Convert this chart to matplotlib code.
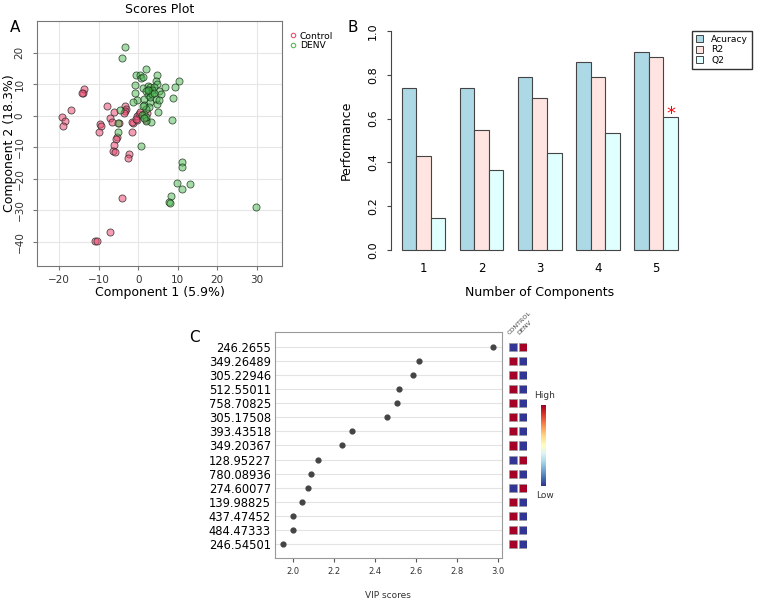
import numpy as np
import matplotlib
matplotlib.use("Agg")
import matplotlib.pyplot as plt
from matplotlib.lines import Line2D
from matplotlib.patches import Patch

# ---------------- Panel A data (PLS-DA scores) ----------------
control_x = [-19.3, -18.4, -18.9, -17.1, -13.9, -13.6, -14.1, -9.6, -9.5, -10.0,
             -7.8, -7.1, -6.5, -6.2, -4.9, -3.3, -3.1, -3.4, -3.5, -5.3,
             -5.6, -6.2, -6.3, -5.8, -2.3, -2.6, -1.6, -1.4, -1.5, -0.4,
             -0.3, 0.2, 0.4, 1.9, -4.2, -7.2, -10.9, -10.3, -0.6, 2.3]
control_y = [-0.5, -1.6, -3.1, 1.8, 7.3, 8.4, 7.1, -2.6, -3.4, -5.3,
             3.2, -0.6, -2.1, 1.3, -2.4, 3.1, 2.2, 1.4, 0.95, -6.7,
             -7.5, -9.3, -11.1, -11.4, -12.2, -13.5, -5.2, -2.4, -1.9, -1.2,
             -0.1, 0.7, 1.3, -1.4, -26.0, -37.0, -39.9, -39.9, -1.0, 1.0]
denv_x = [-3.3, -4.1, 1.9, 4.8, -0.6, 0.4, 0.8, 1.3, 10.4, 4.5,
          4.7, -0.8, 1.1, 2.5, 3.1, 3.9, 2.8, 3.6, 3.1, 2.5,
          2.1, 5.3, 6.9, 9.3, 5.9, -0.8, 8.9, -0.4, -1.4, 1.4,
          1.6, 3.0, 4.8, 4.6, 5.3, 2.7, 2.1, 5.1, 3.3, 1.9,
          1.4, 8.5, -4.5, -5.2, -5.1, 0.7, 11.1, 11.0, 9.8, 11.2,
          13.2, 8.4, 7.7, 8.0, 29.8, 3.0, 3.4, 4.0, 1.3, 1.0,
          2.1, 2.4, 1.5]
denv_y = [21.7, 18.5, 14.9, 12.9, 12.8, 12.9, 12.1, 12.4, 10.9, 10.9,
          10.0, 9.9, 8.7, 9.4, 9.0, 9.0, 8.1, 8.1, 7.3, 6.6,
          7.9, 7.9, 9.0, 9.2, 6.8, 7.1, 5.8, 5.0, 4.4, 5.3,
          3.5, 4.4, 3.9, 5.2, 5.0, 2.9, 2.0, 1.1, -1.9, -1.5,
          0.7, -1.4, 1.7, -2.2, -5.2, -9.6, -14.8, -16.2, -21.3, -23.2,
          -21.8, -25.6, -27.5, -27.6, -28.9, 6.0, 6.9, 7.1, 3.1, 0.2,
          -0.3, 8.3, -0.8]

# ---------------- Panel B data (performance) ----------------
n_components = [1, 2, 3, 4, 5]
accuracy = [0.741, 0.741, 0.790, 0.857, 0.906]
r2 = [0.429, 0.546, 0.693, 0.791, 0.880]
q2 = [0.145, 0.367, 0.444, 0.534, 0.609]
best_component = 5

# ---------------- Panel C data (VIP scores) ----------------
features = ["246.2655", "349.26489", "305.22946", "512.55011", "758.70825",
            "305.17508", "393.43518", "349.20367", "128.95227", "780.08936",
            "274.60077", "139.98825", "437.47452", "484.47333", "246.54501"]
vip = [2.976, 2.613, 2.585, 2.514, 2.507, 2.459, 2.288, 2.236, 2.122, 2.089,
       2.072, 2.041, 2.000, 1.997, 1.951]
groups = ["CONTROL", "DENV"]
control_level = [0, 1, 1, 1, 1, 1, 1, 1, 0, 1, 0, 1, 1, 1, 1]
denv_level = [1, 0, 0, 0, 0, 0, 0, 0, 1, 0, 1, 0, 0, 0, 0]

W, H = 760, 603
fig = plt.figure(figsize=(W / 100, H / 100), dpi=100)
plt.rcParams['font.family'] = ['DejaVu Sans']


def fx(px):
    return px / W


def fy(py):
    return 1 - py / H


# ================= Panel A =================
axA = fig.add_axes([fx(37), fy(266), fx(282 - 37), (266 - 21) / H])
axA.set_xlim(-25.6, 36.4)
axA.set_ylim(-47.7, 30.1)
axA.set_xticks([-20, -10, 0, 10, 20, 30])
axA.set_yticks([-40, -30, -20, -10, 0, 10, 20])
axA.grid(True, color='#e6e6e6', lw=0.8)
axA.set_axisbelow(True)
axA.scatter(control_x, control_y, s=26, facecolor=(0.93, 0.30, 0.45, 0.55),
            edgecolor=(0.15, 0.15, 0.15, 0.8), lw=0.6, zorder=3)
axA.scatter(denv_x, denv_y, s=26, facecolor=(0.30, 0.72, 0.32, 0.5),
            edgecolor=(0.1, 0.2, 0.1, 0.8), lw=0.6, zorder=3)
for sp in axA.spines.values():
    sp.set_color('#777777')
axA.tick_params(labelsize=7.5, length=3, color='#777777', labelcolor='#333333')
axA.tick_params(axis='y', pad=6)
plt.setp(axA.get_yticklabels(), rotation=90, va='center')
axA.set_xlabel("Component 1 (5.9%)", fontsize=9, labelpad=1)
axA.set_ylabel("Component 2 (18.3%)", fontsize=9, labelpad=0)
axA.yaxis.set_label_coords(-0.085, 0.5)
axA.set_title("Scores Plot", fontsize=9, pad=6)
legA = [Line2D([], [], ls='none', marker='o', mfc='none', mec='#e8506e', ms=3.2, mew=0.8, label='Control'),
        Line2D([], [], ls='none', marker='o', mfc='none', mec='#5cb85c', ms=3.2, mew=0.8, label='DENV')]
fig.legend(handles=legA, loc='upper left', bbox_to_anchor=(fx(286), fy(27)), frameon=False,
           fontsize=6.6, handlelength=0.6, handletextpad=0.4, labelspacing=0.05, borderpad=0)
fig.text(fx(10), fy(27), "A", fontsize=11, ha='left', va='center')

# ================= Panel B =================
axB = fig.add_axes([fx(390.7), fy(258.8), fx(688.8 - 390.7), (258.8 - 22.2) / H])
axB.set_xlim(0.24, 20.76)
axB.set_ylim(-0.04, 1.04)
idx = np.arange(len(n_components))
left0 = 1 + idx * 4
cols = ['#ADD8E6', '#FFE4E1', '#E0FFFF']
names = ['Acuracy', 'R2', 'Q2']
for k, (vals, c) in enumerate(zip([accuracy, r2, q2], cols)):
    axB.bar(left0 + k + 0.5, vals, width=1.0, color=c, edgecolor='#444444', lw=0.8)
bi = n_components.index(best_component)
axB.text(left0[bi] + 2.5, q2[bi] - 0.03, "*", color='red', fontsize=13, ha='center', va='bottom')
for s in ['top', 'right', 'bottom']:
    axB.spines[s].set_visible(False)
axB.spines['left'].set_bounds(0, 1)
axB.spines['left'].set_color('#444444')
axB.set_yticks([0, 0.2, 0.4, 0.6, 0.8, 1.0])
axB.set_yticklabels(["0.0", "0.2", "0.4", "0.6", "0.8", "1.0"])
axB.set_xticks(left0 + 1.5)
axB.set_xticklabels([str(n) for n in n_components])
axB.tick_params(axis='x', length=0, labelsize=8.5, pad=2)
axB.tick_params(axis='y', length=3, labelsize=8, color='#444444', pad=6)
plt.setp(axB.get_yticklabels(), rotation=90, va='center')
axB.set_xlabel("Number of Components", fontsize=9, labelpad=8)
axB.set_ylabel("Performance", fontsize=9)
axB.yaxis.set_label_coords(-0.126, 0.5)
fig.text(fx(353), fy(27), "B", fontsize=11, ha='center', va='center')
legB = [Patch(facecolor=c, edgecolor='#444444', lw=0.7, label=n) for c, n in zip(cols, names)]
fig.legend(handles=legB, loc='upper left', bbox_to_anchor=(fx(691.7), fy(30.7)), fontsize=6.6,
           frameon=True, fancybox=False, edgecolor='#333333', framealpha=1,
           handlelength=0.8, handleheight=0.8, handletextpad=0.9, labelspacing=0.15,
           borderpad=0.45, borderaxespad=0)

# ================= Panel C =================
axC = fig.add_axes([fx(275), fy(557.7), fx(501.7 - 275), (557.7 - 332.3) / H])
ypos = np.arange(len(features))
axC.set_ylim(len(features) - 1 + 0.95, -1.02)
axC.set_xlim(1.911, 3.017)
for yv in ypos:
    axC.axhline(yv, color='#e3e3e3', lw=0.8, zorder=0)
axC.scatter(vip, ypos, s=12, color='#444444', zorder=3)
axC.set_yticks(ypos)
axC.set_yticklabels(features)
axC.set_xticks([2.0, 2.2, 2.4, 2.6, 2.8, 3.0])
axC.tick_params(axis='y', length=0, labelsize=8.3, pad=3)
axC.tick_params(axis='x', length=3, labelsize=6, color='#555555', labelcolor='#333333')
for sp in axC.spines.values():
    sp.set_color('#999999')
axC.set_xlabel("VIP scores", fontsize=6.5, labelpad=11, color='#333333')
fig.text(fx(194), fy(338), "C", fontsize=11, ha='center', va='center')

# heatmap squares
axH = fig.add_axes([fx(508.6), fy(557.7), fx(18.8), (557.7 - 332.3) / H])
axH.set_ylim(len(features) - 1 + 0.95, -1.02)
axH.set_xlim(-0.5, 1.5)
cmap = plt.get_cmap('RdYlBu_r')
axH.scatter(np.zeros(len(features)), ypos, c=control_level, cmap=cmap, vmin=0, vmax=1,
            marker='s', s=34, edgecolor='#999999', lw=0.5)
axH.scatter(np.ones(len(features)), ypos, c=denv_level, cmap=cmap, vmin=0, vmax=1,
            marker='s', s=34, edgecolor='#999999', lw=0.5)
axH.axis('off')
for j, g in enumerate(groups):
    axH.text(j - 0.3, -0.75, g, rotation=45, fontsize=4.6, color='#444444',
             ha='left', va='bottom', rotation_mode='anchor')

# colorbar
axCB = fig.add_axes([fx(541), fy(485.7), fx(4.7), 80.7 / H])
grad = np.linspace(1, 0, 100).reshape(-1, 1)
axCB.imshow(grad, aspect='auto', cmap=cmap, extent=[0, 1, 0, 1])
axCB.set_xticks([])
axCB.set_yticks([])
for sp in axCB.spines.values():
    sp.set_visible(False)
fig.text(fx(545), fy(396), "High", fontsize=6.5, ha='center', va='center', color='#333333')
fig.text(fx(545), fy(495), "Low", fontsize=6.5, ha='center', va='center', color='#333333')

fig.savefig("out.png", dpi=100)
